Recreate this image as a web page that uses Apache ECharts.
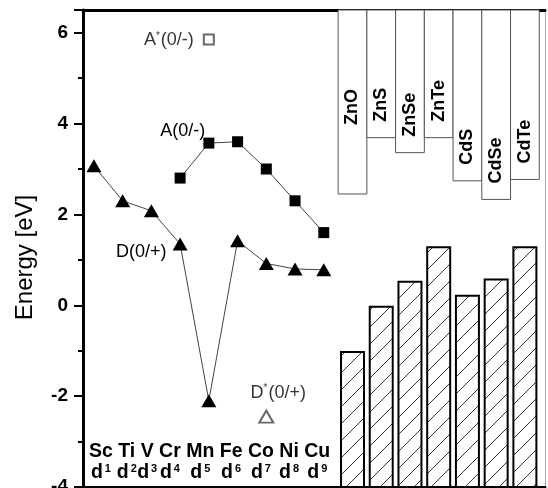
<!DOCTYPE html>
<html>
<head>
<meta charset="utf-8">
<script src="https://cdn.jsdelivr.net/npm/echarts@6/dist/echarts.min.js"></script>
<style>
  html, body { margin: 0; padding: 0; background: #fff; }
  #chart { width: 548px; height: 488px; }
</style>
</head>
<body>
<div id="chart"></div>
<script>
// 3d transition-metal impurities: element names and d-shell occupancy
const elements = ['Sc', 'Ti', 'V', 'Cr', 'Mn', 'Fe', 'Co', 'Ni', 'Cu'];
const dOccupancy = ['1', '2', '3', '4', '5', '6', '7', '8', '9'];

// Donor D(0/+) and acceptor A(0/-) levels, eV
const donorLevels = [3.07, 2.30, 2.08, 1.35, -2.10, 1.42, 0.92, 0.80, 0.78];
const acceptorLevels = [null, null, null, 2.80, 3.57, 3.60, 3.00, 2.30, 1.60];

// Excited-state levels A*(0/-) and D*(0/+)
const acceptorStarElement = 'Mn';
const acceptorStarLevel = 5.85;
const donorStarElement = 'Co';
const donorStarLevel = -2.45;

// II-VI hosts: conduction-band and valence-band edges, eV
const hosts = ['ZnO', 'ZnS', 'ZnSe', 'ZnTe', 'CdS', 'CdSe', 'CdTe'];
const conductionBand = [2.45, 3.69, 3.36, 3.69, 2.74, 2.33, 2.77];
const valenceBand = [-1.03, -0.03, 0.52, 1.28, 0.21, 0.57, 1.28];

// Energy axis
const energyTicks = [-4, -2, 0, 2, 4, 6];
const Y_MIN = -4, Y_MAX = 6.5;
const X_MIN = 0.62, X_MAX = 16.7;

const FONT = '"Liberation Sans", Arial, sans-serif';
const GRID = { left: 83, right: 3, top: 10, bottom: 1 };

// Everything sits on one shared x scale: elements at 1..9, hosts at 10..16
const xOfElement = (i) => i + 1;
const xOfHost = (j) => elements.length + 1 + j;

const donorTagAt = 'Cr';
const acceptorTagAt = 'Mn';

// Host label sits this far above the band edge; ZnO label is raised
const hostLabelGap = { ZnO: 69 };
const HATCH_GAP = 17;

function renderConduction(params, api) {
  const x = api.value(0), v = api.value(1);
  const a = api.coord([x - 0.5, Y_MAX]);
  const b = api.coord([x + 0.5, v]);
  const name = hosts[params.dataIndex];
  const gap = hostLabelGap[name] != null ? hostLabelGap[name] : 16;
  return {
    type: 'group',
    children: [
      {
        type: 'rect',
        shape: { x: a[0], y: a[1], width: b[0] - a[0], height: b[1] - a[1] },
        style: { fill: '#fff', stroke: '#555', lineWidth: 1 }
      },
      {
        type: 'text',
        x: (a[0] + b[0]) / 2,
        y: b[1] - gap,
        rotation: Math.PI / 2,
        style: {
          text: name,
          font: 'bold 18px ' + FONT,
          fill: '#000',
          align: 'left',
          verticalAlign: 'middle'
        }
      }
    ]
  };
}

function renderValence(params, api) {
  const x = api.value(0), v = api.value(1);
  const tl = api.coord([x - 0.4, v]);
  const br = api.coord([x + 0.4, Y_MIN]);
  const x0 = tl[0], y0 = tl[1], x1 = br[0], y1 = br[1];
  const children = [{
    type: 'rect',
    shape: { x: x0, y: y0, width: x1 - x0, height: y1 - y0 },
    style: { fill: '#fff' }
  }];
  // diagonal hatching: lines y = c - x clipped to the bar
  const cStart = Math.ceil((x0 + y0) / HATCH_GAP) * HATCH_GAP;
  for (let c = cStart; c <= x1 + y1; c += HATCH_GAP) {
    const xa = Math.max(x0, c - y1);
    const xb = Math.min(x1, c - y0);
    if (xb - xa < 0.5) continue;
    children.push({
      type: 'line',
      shape: { x1: xa, y1: c - xa, x2: xb, y2: c - xb },
      style: { stroke: '#333', lineWidth: 1 }
    });
  }
  children.push({
    type: 'rect',
    shape: { x: x0, y: y0, width: x1 - x0, height: y1 - y0 },
    style: { fill: 'none', stroke: '#000', lineWidth: 2 }
  });
  return { type: 'group', children };
}

const annotationFont = { fontFamily: FONT, fontSize: 18, color: '#000' };
const starRich = { s: { fontFamily: FONT, fontSize: 10, color: '#000', verticalAlign: 'top', padding: [0, 1, 0, 0] } };

const donorData = donorLevels.map((v, i) => {
  const item = { value: [xOfElement(i), v] };
  if (elements[i] === donorTagAt) {
    item.label = {
      show: true, position: 'left', distance: 6, offset: [0, 8],
      formatter: 'D(0/+)', ...annotationFont
    };
  }
  return item;
});

const acceptorData = acceptorLevels.map((v, i) => {
  const item = { value: [xOfElement(i), v] };
  if (elements[i] === acceptorTagAt) {
    item.label = {
      show: true, position: 'left', distance: 0, offset: [2, -12],
      formatter: 'A(0/-)', ...annotationFont
    };
  }
  return item;
});

const chart = echarts.init(document.getElementById('chart'), null, { renderer: 'canvas' });

const hiddenAxisParts = {
  axisTick: { show: false },
  axisLabel: { show: false },
  splitLine: { show: false }
};

chart.setOption({
  animation: false,
  backgroundColor: '#fff',
  grid: { ...GRID, containLabel: false, outerBoundsMode: 'none' },
  xAxis: [
    {
      type: 'value', min: X_MIN, max: X_MAX, position: 'bottom',
      axisLine: { onZero: false, lineStyle: { color: '#000', width: 3 } },
      ...hiddenAxisParts
    },
    {
      type: 'value', min: X_MIN, max: X_MAX, position: 'top',
      axisLine: { onZero: false, lineStyle: { color: '#000', width: 3 } },
      ...hiddenAxisParts
    }
  ],
  yAxis: [
    {
      type: 'value', min: Y_MIN, max: Y_MAX, interval: 2, position: 'left',
      name: 'Energy [eV]', nameLocation: 'middle', nameGap: 46,
      nameTextStyle: { fontFamily: FONT, fontSize: 24, color: '#000', padding: [0, 18, 0, 0] },
      axisLine: { onZero: false, lineStyle: { color: '#000', width: 3 } },
      axisTick: { show: true, length: 9, lineStyle: { color: '#000', width: 2 } },
      minorTick: { show: true, splitNumber: 2, length: 5, lineStyle: { color: '#000', width: 2 } },
      axisLabel: {
        margin: 15, fontFamily: FONT, fontSize: 19, fontWeight: 'bold', color: '#000',
        formatter: (v) => (energyTicks.includes(v) ? String(v) : '')
      },
      splitLine: { show: false }
    },
    {
      type: 'value', min: Y_MIN, max: Y_MAX, position: 'right',
      axisLine: { onZero: false, lineStyle: { color: '#aaa', width: 1 } },
      ...hiddenAxisParts
    }
  ],
  series: [
    {
      type: 'custom', name: 'conduction band',
      renderItem: renderConduction,
      data: conductionBand.map((v, j) => [xOfHost(j), v]),
      z: 1
    },
    {
      type: 'custom', name: 'valence band',
      renderItem: renderValence,
      data: valenceBand.map((v, j) => [xOfHost(j), v]),
      z: 1
    },
    {
      type: 'line', name: 'D(0/+)',
      data: donorData,
      symbol: 'triangle', symbolSize: [15, 13],
      lineStyle: { color: '#444', width: 1 },
      itemStyle: { color: '#000' },
      z: 3
    },
    {
      type: 'line', name: 'A(0/-)',
      data: acceptorData,
      symbol: 'rect', symbolSize: 11,
      lineStyle: { color: '#444', width: 1 },
      itemStyle: { color: '#000' },
      z: 3
    },
    {
      type: 'scatter', name: 'A*(0/-)',
      data: [[xOfElement(elements.indexOf(acceptorStarElement)), acceptorStarLevel]],
      symbol: 'emptyRect', symbolSize: 10,
      itemStyle: { color: '#444', borderColor: '#444', borderWidth: 1 },
      label: {
        show: true, position: 'left', distance: 9, offset: [0, 1],
        formatter: 'A{s|*}(0/-)', ...annotationFont, rich: starRich
      },
      z: 3
    },
    {
      type: 'scatter', name: 'D*(0/+)',
      data: [[xOfElement(elements.indexOf(donorStarElement)), donorStarLevel]],
      symbol: 'emptyTriangle', symbolSize: [14, 12],
      itemStyle: { color: '#444', borderColor: '#444', borderWidth: 1 },
      label: {
        show: true, position: 'top', distance: 8, offset: [12, 0],
        formatter: 'D{s|*}(0/+)', ...annotationFont, rich: starRich
      },
      z: 3
    }
  ]
});

// Element / d-occupancy rows laid out as running text along the bottom
const elemFontSize = 19.5;
const elemFont = 'bold ' + elemFontSize + 'px ' + FONT;
const measure = document.createElement('canvas').getContext('2d');
measure.font = elemFont;
const spaceW = measure.measureText(' ').width;
const rowGraphics = [];
let cursor = GRID.left + 6;
elements.forEach((el, i) => {
  const w = measure.measureText(el).width;
  const cx = cursor + w / 2;
  rowGraphics.push({
    type: 'text', x: cx, y: 452,
    style: { text: el, font: elemFont, fill: '#000', align: 'center', verticalAlign: 'middle' }
  });
  rowGraphics.push({
    type: 'text', x: cx, y: 473,
    style: {
      text: '{d|d}{n|' + dOccupancy[i] + '}',
      align: 'center', verticalAlign: 'middle',
      rich: {
        d: { fontFamily: FONT, fontWeight: 'bold', fontSize: elemFontSize, fill: '#000', verticalAlign: 'bottom' },
        n: { fontFamily: FONT, fontWeight: 'bold', fontSize: 11, fill: '#000', verticalAlign: 'top', padding: [0, 0, 0, 2] }
      }
    }
  });
  cursor += w + spaceW;
});
chart.setOption({ graphic: rowGraphics });
</script>
</body>
</html>
